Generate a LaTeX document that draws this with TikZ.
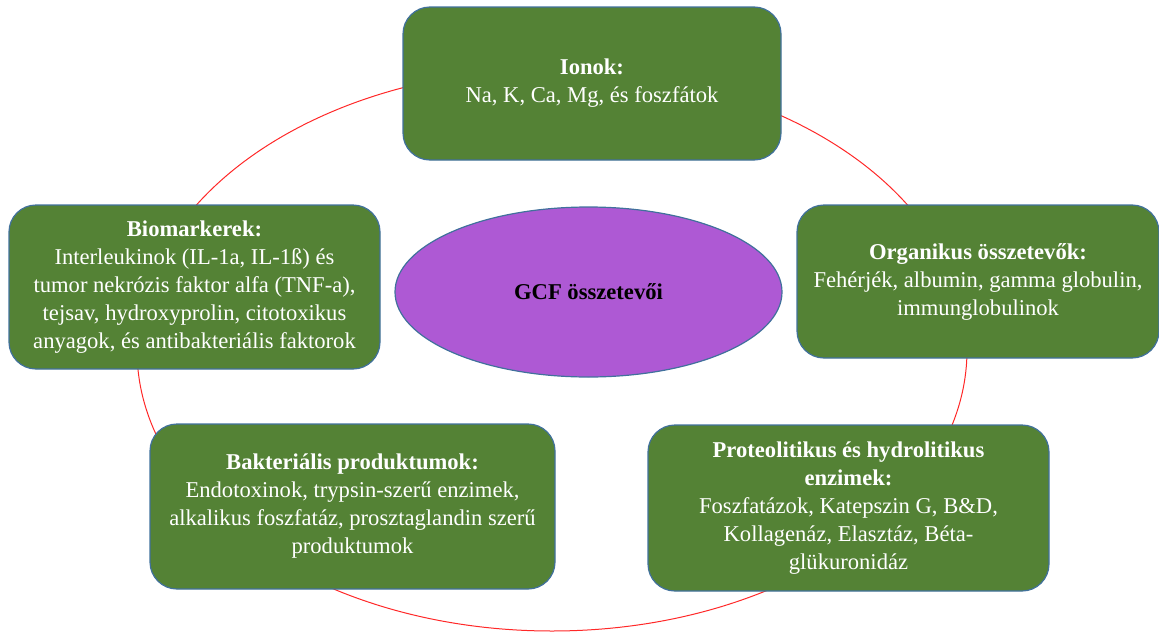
\documentclass[tikz,border=0pt]{standalone}
\usepackage{fontspec}
\setmainfont{Liberation Serif}
\usetikzlibrary{shapes.geometric}
\definecolor{boxgreen}{RGB}{84,130,53}
\definecolor{edgeblue}{RGB}{65,113,156}
\definecolor{centrepurple}{RGB}{174,89,212}
\definecolor{ringred}{RGB}{255,40,40}
\begin{document}
\begin{tikzpicture}[
    x=1pt, y=-1pt,
    part/.style={rectangle, rounded corners=27pt, draw=edgeblue, line width=1.2pt,
                 fill=boxgreen, text=white, align=center, inner sep=0pt,
                 font=\fontsize{22.6}{28}\selectfont},
    core/.style={ellipse, draw=edgeblue, line width=1.2pt, fill=centrepurple,
                 inner sep=0pt, minimum width=387pt, minimum height=170pt,
                 font=\fontsize{22.6}{28}\selectfont\bfseries},
    ring/.style={draw=ringred, line width=1pt}
]
  \useasboundingbox (0,0) rectangle (1159,632);

  % kör a háttérben
  \coordinate (mid) at (552,350);
  \draw[ring] (mid) ellipse [x radius=415pt, y radius=281pt];

  % középső ellipszis
  \node[core] (gcf) at (588.5,292) {GCF összetevői};

  % dobozok
  \node[part, minimum width=378pt, minimum height=153pt] (ion) at (592,83.5)
    {\textbf{Ionok:}\\Na, K, Ca, Mg, és foszfátok};
  \node[part, minimum width=362pt, minimum height=153pt] (org) at (978,281.5)
    {\textbf{Organikus összetevők:}\\Fehérjék, albumin, gamma globulin,\\immunglobulinok};
  \node[part, minimum width=401pt, minimum height=166pt] (enz) at (848.5,508)
    {\textbf{Proteolitikus és hydrolitikus}\\\textbf{enzimek:}\\Foszfatázok, Katepszin G, B\&D,\\Kollagenáz, Elasztáz, Béta-\\glükuronidáz};
  \node[part, minimum width=405pt, minimum height=165pt] (bakt) at (352.5,506.5)
    {\textbf{Bakteriális produktumok:}\\Endotoxinok, trypsin-szerű enzimek,\\alkalikus foszfatáz, prosztaglandin szerű\\produktumok};
  \node[part, minimum width=371pt, minimum height=164pt] (bio) at (194.5,287)
    {\textbf{Biomarkerek:}\\Interleukinok (IL-1a, IL-1ß) és\\tumor nekrózis faktor alfa (TNF-a),\\tejsav, hydroxyprolin, citotoxikus\\anyagok, és antibakteriális faktorok};

\end{tikzpicture}
\end{document}
